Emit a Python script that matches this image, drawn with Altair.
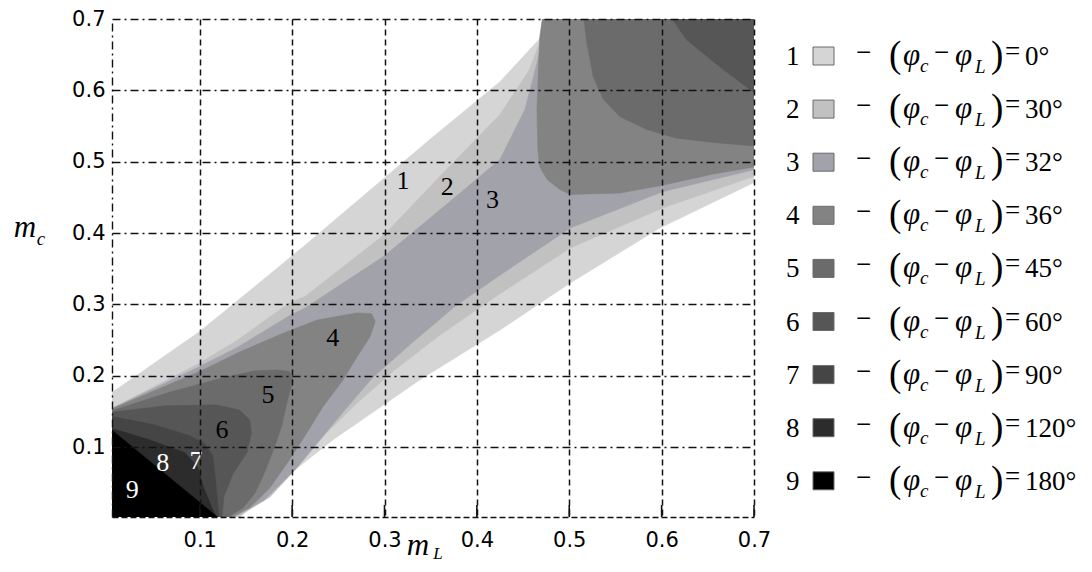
import altair as alt
import pandas as pd

# ---------------- data ----------------
X_TICKS = [0.1, 0.2, 0.3, 0.4, 0.5, 0.6, 0.7]
Y_TICKS = [0.1, 0.2, 0.3, 0.4, 0.5, 0.6, 0.7]

LEVELS = ["1", "2", "3", "4", "5", "6", "7", "8", "9"]
DEGREES = ["0°", "30°", "32°", "36°", "45°", "60°", "90°", "120°", "180°"]
GRAYS = ["#d5d5d5", "#c1c1c1", "#a2a2aa", "#838383", "#6b6b6b",
         "#565656", "#454545", "#2c2c2c", "#000000"]

# region boundaries (m_L, m_c) for "phase difference >= level"
P1_x = [0, 0, 0.100, 0.154, 0.214, 0.349, 0.425, 0.472, 0.474, 0.71, 0.71, 0.598, 0.501, 0.425, 0.338, 0.244, 0.200, 0.165, 0.142]
P1_y = [0, 0.172, 0.262, 0.319, 0.383, 0.531, 0.612, 0.678, 0.71, 0.71, 0.477, 0.407, 0.330, 0.264, 0.194, 0.110, 0.065, 0.026, 0]

P2_x = [0, 0, 0.100, 0.141, 0.197, 0.214, 0.300, 0.367, 0.425, 0.457, 0.469, 0.472, 0.71, 0.71, 0.601, 0.501, 0.425, 0.360, 0.309, 0.268, 0.235, 0.208, 0.176, 0.138]
P2_y = [0, 0.151, 0.218, 0.250, 0.302, 0.311, 0.398, 0.489, 0.566, 0.629, 0.671, 0.71, 0.71, 0.484, 0.435, 0.379, 0.315, 0.257, 0.206, 0.159, 0.117, 0.075, 0.030, 0]

P3_x = [0, 0, 0.100, 0.141, 0.197, 0.214, 0.300, 0.367, 0.425, 0.452, 0.466, 0.469, 0.472, 0.71, 0.71, 0.601, 0.501, 0.425, 0.378, 0.327, 0.287, 0.257, 0.230, 0.203, 0.170, 0.135]
P3_y = [0, 0.151, 0.213, 0.240, 0.284, 0.295, 0.368, 0.440, 0.503, 0.573, 0.643, 0.664, 0.71, 0.71, 0.492, 0.458, 0.407, 0.341, 0.299, 0.243, 0.197, 0.152, 0.110, 0.068, 0.026, 0]

P4a_x = [0, 0, 0.100, 0.141, 0.189, 0.227, 0.270, 0.286, 0.290, 0.284, 0.270, 0.255, 0.233, 0.216, 0.197, 0.176, 0.154, 0.131]
P4a_y = [0, 0.151, 0.206, 0.232, 0.259, 0.278, 0.288, 0.287, 0.276, 0.254, 0.226, 0.194, 0.156, 0.120, 0.082, 0.043, 0.015, 0]

P4b_x = [0.472, 0.468, 0.465, 0.466, 0.468, 0.476, 0.490, 0.501, 0.555, 0.601, 0.657, 0.71, 0.71]
P4b_y = [0.71, 0.674, 0.573, 0.517, 0.493, 0.475, 0.461, 0.454, 0.456, 0.467, 0.483, 0.495, 0.71]

P5a_x = [0, 0, 0.0675, 0.125, 0.160, 0.184, 0.197, 0.201, 0.195, 0.189, 0.181, 0.170, 0.160, 0.147, 0.128]
P5a_y = [0, 0.149, 0.177, 0.197, 0.207, 0.208, 0.206, 0.194, 0.166, 0.131, 0.100, 0.064, 0.036, 0.015, 0]

P5b_x = [0.515, 0.519, 0.526, 0.537, 0.555, 0.584, 0.616, 0.656, 0.71, 0.71]
P5b_y = [0.71, 0.667, 0.619, 0.587, 0.563, 0.545, 0.533, 0.527, 0.521, 0.71]

P6a_x = [0, 0, 0.064, 0.118, 0.143, 0.154, 0.156, 0.151, 0.136, 0.126, 0.124]
P6a_y = [0, 0.148, 0.158, 0.159, 0.152, 0.138, 0.120, 0.092, 0.063, 0.030, 0]

P6b_x = [0.606, 0.627, 0.663, 0.71, 0.71]
P6b_y = [0.71, 0.671, 0.633, 0.587, 0.71]

P7_x = [0, 0, 0.051, 0.089, 0.105, 0.114, 0.117, 0.121]
P7_y = [0, 0.144, 0.131, 0.116, 0.105, 0.088, 0.054, 0]

P8_x = [0, 0, 0.046, 0.084, 0.098, 0.104, 0.114, 0.119]
P8_y = [0, 0.128, 0.110, 0.092, 0.072, 0.044, 0.012, 0]

P9_x = [0, 0, 0.121]
P9_y = [0, 0.129, 0]

POLYGONS = [
    (0, P1_x, P1_y), (1, P2_x, P2_y), (2, P3_x, P3_y),
    (3, P4a_x, P4a_y), (3, P4b_x, P4b_y),
    (4, P5a_x, P5a_y), (4, P5b_x, P5b_y),
    (5, P6a_x, P6a_y), (5, P6b_x, P6b_y),
    (6, P7_x, P7_y), (7, P8_x, P8_y), (8, P9_x, P9_y),
]

# in-plot region numbers
LBL_x = [0.320, 0.368, 0.417, 0.244, 0.174, 0.124, 0.096, 0.060, 0.027]
LBL_y = [0.473, 0.465, 0.447, 0.253, 0.173, 0.124, 0.080, 0.078, 0.040]
LBL_col = ["#000", "#000", "#000", "#000", "#000", "#000", "#fff", "#fff", "#fff"]

# ---------------- layout ----------------
W, H = 642, 498
OX, OY = 112, 19  # plot origin on the page
SERIF = "Liberation Serif"
SANS = "DejaVu Sans"

xs = alt.Scale(domain=[0.005, 0.7], nice=False, zero=False)
ys = alt.Scale(domain=[0.002, 0.7], nice=False, zero=False)

x_axis = alt.Axis(values=X_TICKS, format=".1f", labelFont=SANS, labelFontSize=21,
                  labelColor="#000", ticks=False, grid=True, gridColor="#111",
                  gridDash=[6, 4], gridWidth=1.5, gridOpacity=1, domainColor="#111",
                  domainDash=[6, 3], domainWidth=1.4, labelPadding=12, title=None,
                  zindex=1, labelFlush=False)
y_axis = alt.Axis(values=Y_TICKS, format=".1f", labelFont=SANS, labelFontSize=21,
                  labelColor="#000", ticks=False, grid=True, gridColor="#111",
                  gridDash=[8, 4, 2, 4], gridWidth=1.5, gridOpacity=1, domainColor="#111",
                  domainDash=[8, 4, 2, 4], domainWidth=1.4, labelPadding=7, title=None,
                  zindex=1, labelFlush=False)

X_ENC = dict(scale=xs, axis=x_axis)
Y_ENC = dict(scale=ys, axis=y_axis)

layers = []
for lvl, px, py in POLYGONS:
    df = pd.DataFrame({"x": px, "y": py, "i": list(range(len(px)))})
    col = GRAYS[lvl]
    layers.append(
        alt.Chart(df).mark_line(fill=col, stroke=col, strokeWidth=0.6, clip=True,
                                interpolate="linear-closed").encode(
            x=alt.X("x:Q", **X_ENC),
            y=alt.Y("y:Q", **Y_ENC),
            order="i:Q",
        )
    )

# inward ticks on the x axis
tick_df = pd.DataFrame({"t": X_TICKS})
layers.append(
    alt.Chart(tick_df).mark_rule(color="#111", strokeWidth=1.6).encode(
        x=alt.X("t:Q", **X_ENC), y=alt.value(H), y2=alt.value(H - 12)
    )
)

# region numbers
lbl_df = pd.DataFrame({"x": LBL_x, "y": LBL_y, "t": LEVELS, "c": LBL_col})
layers.append(
    alt.Chart(lbl_df).mark_text(font=SERIF, fontSize=26, baseline="middle", align="center").encode(
        x=alt.X("x:Q", **X_ENC), y=alt.Y("y:Q", **Y_ENC),
        text="t:N", color=alt.Color("c:N", scale=None)
    )
)

# axis titles (italic m with subscripts)
title_rows = [("m", 25, 237, 31), ("m", 418, 555, 31)]
sub_rows = [("c", 41, 245, 19), ("L", 438, 559, 17)]

def tok_df(rows):
    return pd.DataFrame({"t": [a[0] for a in rows], "px": [a[1] - OX for a in rows],
                         "py": [a[2] - OY for a in rows], "fs": [a[3] for a in rows]})

for d in (tok_df(title_rows), tok_df(sub_rows)):
    layers.append(
        alt.Chart(d).mark_text(font=SERIF, fontStyle="italic", baseline="alphabetic",
                               align="center", color="#000").encode(
            x=alt.X("px:Q", scale=None), y=alt.Y("py:Q", scale=None),
            text="t:N", size=alt.Size("fs:Q", scale=None, legend=None)
        )
    )

# legend (drawn as text / squares)
ROW0, ROWSTEP = 55, 53.1
rows_normal, rows_italic, rows_sq = [], [], []
for i, (lv, dg, gc) in enumerate(zip(LEVELS, DEGREES, GRAYS)):
    r = ROW0 + ROWSTEP * i
    rows_normal += [
        (lv, 786, r + 10, 27), ("\u2212", 856, r + 6, 27), ("(", 889, r + 12, 37),
        ("\u2212", 934, r + 6, 27), (")", 991, r + 12, 37), ("=", 1005, r + 5, 27),
        (dg, 1025, r + 10, 27),
    ]
    rows_italic += [
        ("\u03c6", 903, r + 10, 31), ("c", 920, r + 17, 19),
        ("\u03c6", 955, r + 10, 31), ("L", 975, r + 18, 19),
    ]
    rows_sq.append((gc, 813, 834, r - 8, r + 10))

layers.append(
    alt.Chart(tok_df(rows_normal)).mark_text(font=SERIF, baseline="alphabetic", align="left",
                                             color="#000").encode(
        x=alt.X("px:Q", scale=None), y=alt.Y("py:Q", scale=None),
        text="t:N", size=alt.Size("fs:Q", scale=None, legend=None)
    )
)
layers.append(
    alt.Chart(tok_df(rows_italic)).mark_text(font=SERIF, fontStyle="italic", baseline="alphabetic",
                                             align="left", color="#000").encode(
        x=alt.X("px:Q", scale=None), y=alt.Y("py:Q", scale=None),
        text="t:N", size=alt.Size("fs:Q", scale=None, legend=None)
    )
)
sq_df = pd.DataFrame({"c": [a[0] for a in rows_sq], "x1": [a[1] - OX for a in rows_sq],
                      "x2": [a[2] - OX for a in rows_sq], "y1": [a[3] - OY for a in rows_sq],
                      "y2": [a[4] - OY for a in rows_sq]})
layers.append(
    alt.Chart(sq_df).mark_rect(stroke="#6a6a6a", strokeWidth=1).encode(
        x=alt.X("x1:Q", scale=None), x2="x2:Q", y=alt.Y("y1:Q", scale=None), y2="y2:Q",
        fill=alt.Fill("c:N", scale=None, legend=None)
    )
)

chart = alt.layer(*layers).properties(
    width=W, height=H,
    autosize=alt.AutoSizeParams(type="none"),
    padding={"left": 104, "top": 11, "right": 330, "bottom": 47},
    background="white",
).configure_view(stroke=None)

chart.save("out.html", embed_options={"renderer": "svg", "actions": False})
